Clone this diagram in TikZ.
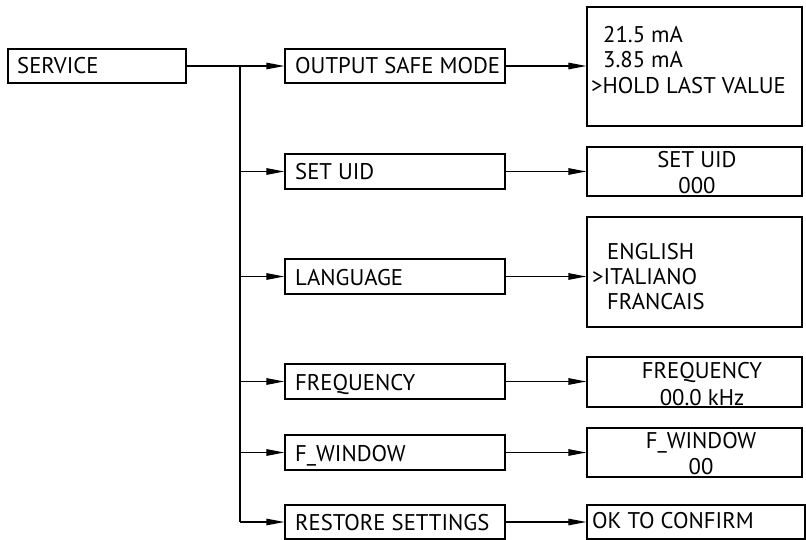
\documentclass[tikz,border=0pt]{standalone}
\usepackage{fontspec}
\setmainfont{PT Sans}
\usetikzlibrary{arrows.meta}
\begin{document}
\begin{tikzpicture}[x=1pt,y=-1pt,
  box/.style={draw, line width=1.3pt, inner sep=0pt, rectangle},
  txt/.style={anchor=base west, inner sep=0pt, font=\fontsize{22.7}{26}\selectfont},
  ctxt/.style={anchor=base, inner sep=0pt, font=\fontsize{22.7}{26}\selectfont},
  link/.style={line width=1.3pt},
  arr/.style={line width=1.3pt, -{Triangle[length=18pt,width=6.5pt]}}]
\useasboundingbox (0,0) rectangle (806,540);
% left column
\node[box, minimum width=178pt, minimum height=34pt] (service) at (97,66) {};
\node[txt] at (17,74) {SERVICE};
% middle column
\node[box, minimum width=220pt, minimum height=34pt] (osm) at (395,66) {};
\node[txt] at (295,74) {OUTPUT SAFE MODE};
\node[box, minimum width=220pt, minimum height=35pt] (uid) at (395,171.5) {};
\node[txt] at (295,180) {SET UID};
\node[box, minimum width=220pt, minimum height=35pt] (lang) at (395,276.5) {};
\node[txt] at (295,285) {LANGUAGE};
\node[box, minimum width=220pt, minimum height=35pt] (freq) at (395,381.5) {};
\node[txt] at (295,390) {FREQUENCY};
\node[box, minimum width=220pt, minimum height=35pt] (fwin) at (395,452.5) {};
\node[txt] at (295,461) {F\_WINDOW};
\node[box, minimum width=220pt, minimum height=34pt] (rest) at (395,522) {};
\node[txt] at (295,530) {RESTORE SETTINGS};
% right column
\node[box, minimum width=215pt, minimum height=119pt] (r1) at (694.5,66.5) {};
\node[txt] at (603,43) {21.5 mA};
\node[txt] at (603,68) {3.85 mA};
\node[txt] at (591,94) {>HOLD LAST VALUE};
\node[box, minimum width=215pt, minimum height=49pt] (r2) at (694.5,171.5) {};
\node[ctxt] at (697,168) {SET UID};
\node[ctxt] at (697,194) {000};
\node[box, minimum width=215pt, minimum height=110pt] (r3) at (694.5,272) {};
\node[txt] at (607,259) {ENGLISH};
\node[txt] at (592,284) {>ITALIANO};
\node[txt] at (607,309) {FRANCAIS};
\node[box, minimum width=215pt, minimum height=50pt] (r4) at (694.5,382) {};
\node[ctxt] at (702,378) {FREQUENCY};
\node[ctxt] at (702,405) {00.0 kHz};
\node[box, minimum width=215pt, minimum height=49pt] (r5) at (694.5,452.5) {};
\node[ctxt] at (701,448) {F\_WINDOW};
\node[ctxt] at (701,474) {00};
\node[box, minimum width=218pt, minimum height=34pt] (r6) at (696,522) {};
\node[txt] at (592,528) {OK TO CONFIRM};
% connectors
\coordinate (jtop) at (240,66);
\coordinate (jbot) at (240,522);
\draw[link] (jtop) -- (jbot);
\draw[arr] (service.east) -- (osm.west);
\draw[arr] (uid.west -| jtop) -- (uid.west);
\draw[arr] (lang.west -| jtop) -- (lang.west);
\draw[arr] (freq.west -| jtop) -- (freq.west);
\draw[arr] (fwin.west -| jtop) -- (fwin.west);
\draw[arr] (jbot) -- (rest.west);
\draw[arr] (osm.east) -- (osm.east -| r1.west);
\draw[arr] (uid.east) -- (uid.east -| r2.west);
\draw[arr] (lang.east) -- (lang.east -| r3.west);
\draw[arr] (freq.east) -- (freq.east -| r4.west);
\draw[arr] (fwin.east) -- (fwin.east -| r5.west);
\draw[arr] (rest.east) -- (rest.east -| r6.west);
\end{tikzpicture}
\end{document}
